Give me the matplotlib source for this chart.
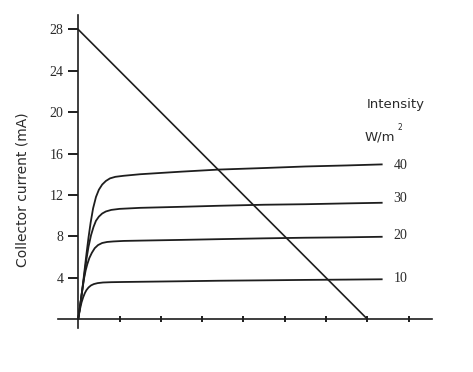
import numpy as np
import matplotlib
matplotlib.use('Agg')
import matplotlib.pyplot as plt

# collector-emitter voltage (tick units) vs collector current (mA)
x_40 = [0, 0.05, 0.1, 0.15, 0.2, 0.25, 0.3, 0.36, 0.43, 0.5, 0.58, 0.67, 0.77, 0.9, 1.1, 1.5, 2.5, 3.4, 4.5, 5.5, 6.5, 7.35]
i_40 = [0, 1.4, 2.9, 4.6, 6.3, 7.9, 9.3, 10.7, 11.8, 12.5, 13.0, 13.35, 13.6, 13.75, 13.85, 14.0, 14.25, 14.45, 14.6, 14.75, 14.85, 14.95]
x_30 = [0, 0.05, 0.1, 0.15, 0.2, 0.25, 0.31, 0.37, 0.43, 0.5, 0.58, 0.67, 0.8, 1.0, 1.5, 2.5, 3.4, 4.5, 5.5, 6.5, 7.35]
i_30 = [0, 1.4, 2.9, 4.3, 5.8, 7.0, 8.1, 8.9, 9.5, 9.9, 10.2, 10.4, 10.55, 10.65, 10.75, 10.85, 10.95, 11.05, 11.1, 11.18, 11.24]
x_20 = [0, 0.05, 0.1, 0.14, 0.18, 0.22, 0.27, 0.33, 0.4, 0.48, 0.58, 0.7, 0.85, 1.1, 1.5, 2.5, 3.4, 4.5, 5.5, 6.5, 7.35]
i_20 = [0, 1.4, 2.8, 3.9, 4.7, 5.3, 5.9, 6.4, 6.85, 7.15, 7.35, 7.45, 7.5, 7.55, 7.58, 7.65, 7.72, 7.8, 7.86, 7.9, 7.95]
x_10 = [0, 0.04, 0.08, 0.12, 0.16, 0.2, 0.25, 0.31, 0.38, 0.47, 0.6, 0.8, 1.1, 1.5, 2.5, 3.4, 4.5, 5.5, 6.5, 7.35]
i_10 = [0, 0.9, 1.6, 2.1, 2.5, 2.8, 3.05, 3.25, 3.38, 3.47, 3.53, 3.56, 3.58, 3.6, 3.65, 3.7, 3.74, 3.78, 3.81, 3.84]

load_x = [0, 7]
load_i = [28, 0]

intensities = ['40', '30', '20', '10']
label_y = [14.8, 11.7, 8.1, 3.9]

y_ticks = [4, 8, 12, 16, 20, 24, 28]
x_ticks = [1, 2, 3, 4, 5, 6, 7, 8]

ink = '#1e1e1e'
txt = '#2a2a2a'

fig = plt.figure(figsize=(4.73, 3.72), dpi=100)
ax = fig.add_axes([0.1226, 0.1183, 0.79, 0.8414])

for xs, ys in [(x_40, i_40), (x_30, i_30), (x_20, i_20), (x_10, i_10)]:
    ax.plot(xs, ys, color=ink, lw=1.3, solid_joinstyle='round')
ax.plot(load_x, load_i, color=ink, lw=1.2)

ax.set_xlim(-0.49, 8.56)
ax.set_ylim(-0.87, 29.4)

for s in ['top', 'right']:
    ax.spines[s].set_visible(False)
ax.spines['left'].set_position(('data', 0))
ax.spines['bottom'].set_position(('data', 0))
for s in ['left', 'bottom']:
    ax.spines[s].set_color(ink)
    ax.spines[s].set_linewidth(1.2)

ax.set_yticks(y_ticks)
ax.set_yticklabels([str(t) for t in y_ticks], family='Liberation Serif', fontsize=10, color=txt)
ax.tick_params(axis='y', direction='out', length=7.5, width=1.4, color=ink, pad=3)
ax.set_xticks(x_ticks)
ax.set_xticklabels([])
ax.tick_params(axis='x', direction='inout', length=5, width=1.4, color=ink)

fig.text(0.048, 0.49, 'Collector current (mA)', rotation=90, ha='center', va='center',
         fontsize=10, color=txt, family='DejaVu Sans')

ax.text(7.69, 20.7, 'Intensity', ha='center', va='center', fontsize=9.5,
        color=txt, family='DejaVu Sans')
ax.text(7.3, 17.6, 'W/m', ha='center', va='center', fontsize=9.5,
        color=txt, family='DejaVu Sans')
ax.text(7.73, 18.5, '2', ha='left', va='center', fontsize=5.5,
        color=txt, family='DejaVu Sans')
for lab, yy in zip(intensities, label_y):
    ax.text(7.64, yy, lab, ha='left', va='center', fontsize=10,
            color=txt, family='Liberation Serif')

fig.savefig('out.png', dpi=100)
